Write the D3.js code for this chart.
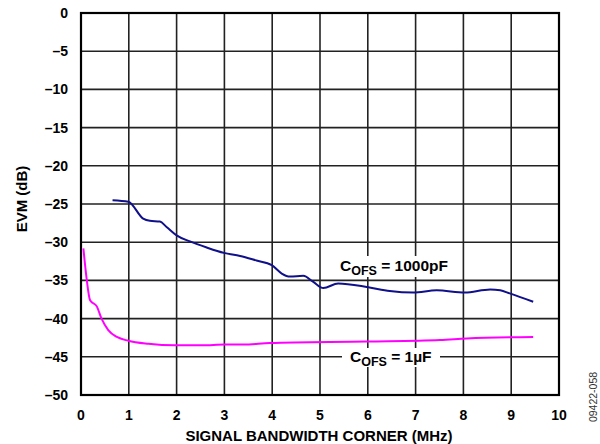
<!DOCTYPE html>
<html>
<head>
<meta charset="utf-8">
<script src="https://cdn.jsdelivr.net/npm/d3@7"></script>
<style>
  body { margin: 0; background: #fff; }
  text { font-family: Arial, "Liberation Sans", sans-serif; }
</style>
</head>
<body>
<div id="chart"></div>
<script>
// datos
const xTicks = [0, 1, 2, 3, 4, 5, 6, 7, 8, 9, 10];
const yTicks = [0, -5, -10, -15, -20, -25, -30, -35, -40, -45, -50];

const bwPf = [0.66, 0.99, 1.30, 1.44, 1.65, 1.79, 2.0, 2.28, 2.63, 2.99, 3.33, 3.67, 3.99, 4.2, 4.37, 4.65, 4.86, 5.07, 5.38, 6.01, 6.46, 6.95, 7.44, 8.03, 8.56, 8.77, 8.97, 9.46];
const evmPf = [-24.5, -24.7, -26.9, -27.2, -27.3, -28.0, -29.1, -29.9, -30.7, -31.4, -31.8, -32.4, -33.0, -34.1, -34.5, -34.4, -35.2, -36.0, -35.4, -35.9, -36.4, -36.6, -36.3, -36.6, -36.2, -36.3, -36.7, -37.8];

const bwUf = [0.05, 0.12, 0.19, 0.33, 0.43, 0.57, 0.75, 0.99, 1.41, 1.97, 2.53, 3.01, 3.4, 3.95, 5.98, 7.51, 8.07, 9.46];
const evmUf = [-30.8, -34.9, -37.6, -38.4, -40.0, -41.5, -42.4, -42.9, -43.3, -43.5, -43.5, -43.4, -43.4, -43.2, -43.0, -42.8, -42.6, -42.4];

// Configuracion
const width = 600, height = 444;
const margin = {top: 13, right: 41, bottom: 49, left: 81};

const svg = d3.select("#chart").append("svg")
  .attr("width", width)
  .attr("height", height);

const x = d3.scaleLinear().domain([0, 10]).range([margin.left, width - margin.right]);
const y = d3.scaleLinear().domain([-50, 0]).range([height - margin.bottom, margin.top]);

// rejilla
svg.append("g").selectAll("line.v")
  .data(xTicks.slice(1, -1))
  .enter().append("line")
  .attr("x1", d => x(d)).attr("x2", d => x(d))
  .attr("y1", y(0)).attr("y2", y(-50))
  .style("stroke", "#222").style("stroke-width", 1.6);

svg.append("g").selectAll("line.h")
  .data(yTicks.slice(1, -1))
  .enter().append("line")
  .attr("x1", x(0)).attr("x2", x(10))
  .attr("y1", d => y(d)).attr("y2", d => y(d))
  .style("stroke", "#222").style("stroke-width", 1.6);

// cajas blancas detras de las etiquetas
svg.append("rect").attr("x", 335).attr("y", 256).attr("width", 123).attr("height", 21).style("fill", "#fff");
svg.append("rect").attr("x", 342).attr("y", 348).attr("width", 98).attr("height", 19).style("fill", "#fff");

// marco
svg.append("rect")
  .attr("x", x(0)).attr("y", y(0))
  .attr("width", x(10) - x(0)).attr("height", y(-50) - y(0))
  .style("fill", "none").style("stroke", "#000").style("stroke-width", 2.2);

// curvas
const line = d3.line().x(d => x(d[0])).y(d => y(d[1])).curve(d3.curveMonotoneX);

svg.append("path")
  .datum(bwPf.map((d, i) => [d, evmPf[i]]))
  .attr("d", line)
  .style("fill", "none").style("stroke", "#10108a").style("stroke-width", 2);

svg.append("path")
  .datum(bwUf.map((d, i) => [d, evmUf[i]]))
  .attr("d", line)
  .style("fill", "none").style("stroke", "#ff00ff").style("stroke-width", 2);

// etiquetas de ejes
svg.append("g").selectAll("text")
  .data(yTicks)
  .enter().append("text")
  .attr("x", x(0) - 13)
  .attr("y", d => y(d) + 5)
  .attr("text-anchor", "end")
  .style("font-size", "14px").style("font-weight", "bold")
  .text(d => d < 0 ? "\u2013" + (-d) : d);

svg.append("g").selectAll("text")
  .data(xTicks)
  .enter().append("text")
  .attr("x", d => x(d))
  .attr("y", 420)
  .attr("text-anchor", "middle")
  .style("font-size", "14px").style("font-weight", "bold")
  .text(d => d);

svg.append("text")
  .attr("x", 319).attr("y", 441)
  .attr("text-anchor", "middle")
  .style("font-size", "15px").style("font-weight", "bold")
  .text("SIGNAL BANDWIDTH CORNER (MHz)");

svg.append("text")
  .attr("transform", "translate(27,199) rotate(-90)")
  .attr("text-anchor", "middle")
  .style("font-size", "15px").style("font-weight", "bold")
  .text("EVM (dB)");

// etiquetas de curvas
function label(xp, yp, value) {
  const t = svg.append("text")
    .attr("x", xp).attr("y", yp)
    .style("font-size", "15.5px").style("font-weight", "bold");
  t.append("tspan").text("C");
  t.append("tspan").attr("dy", 4).style("font-size", "12.5px").text("OFS");
  t.append("tspan").attr("dy", -4).text(" = " + value);
}
label(340, 271, "1000pF");
label(350, 361.5, "1\u00b5F");

svg.append("text")
  .attr("transform", "translate(597,397) rotate(-90)")
  .attr("text-anchor", "middle")
  .style("font-size", "10.5px").style("fill", "#333")
  .text("09422-058");
</script>
</body>
</html>
